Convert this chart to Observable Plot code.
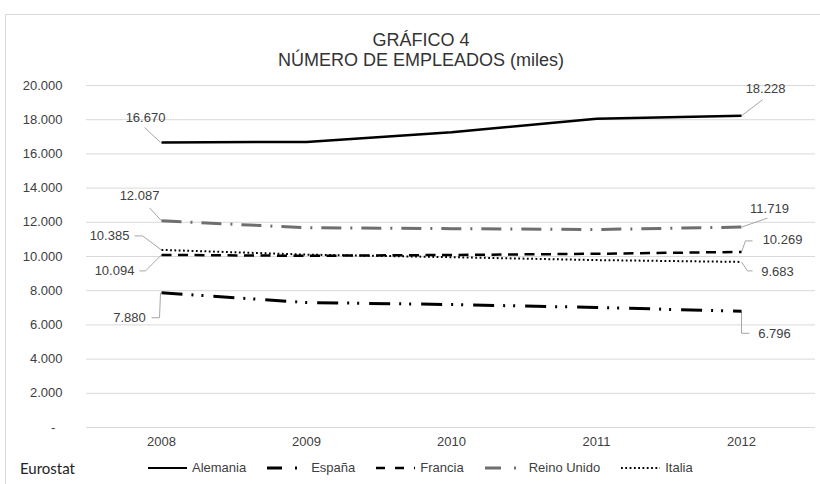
<!DOCTYPE html>
<html>
<head>
<meta charset="utf-8">
<script src="https://cdn.jsdelivr.net/npm/d3@7"></script>
<script src="https://cdn.jsdelivr.net/npm/@observablehq/plot@0.6"></script>
<style>
  html, body { margin: 0; padding: 0; background: #fff; }
  body { width: 820px; height: 484px; overflow: hidden; position: relative; font-family: "Liberation Sans", Arial, sans-serif; }
  #frame { position: absolute; left: 5px; top: 14px; width: 840px; height: 500px; border: 1px solid #d9d9d9; box-sizing: border-box; }
  #title { position: absolute; left: 0; top: 30px; width: 842px; text-align: center; font-size: 18px; line-height: 20px; color: #333; }
  #chart { position: absolute; left: 0; top: 70px; }
  #source { position: absolute; left: 20px; top: 459px; font-family: Lato, "Open Sans", sans-serif; font-size: 15px; color: #222; }
  #legend { position: absolute; left: 148px; top: 460px; display: flex; gap: 21px; font-size: 13px; color: #404040; line-height: 16px; }
  #legend .item { display: flex; align-items: center; }
  #legend svg { margin-right: 5px; }
</style>
</head>
<body>
<div id="frame"></div>
<div id="title"><div>GRÁFICO 4</div><div>NÚMERO DE EMPLEADOS (miles)</div></div>
<div id="chart"></div>
<div id="source">Eurostat</div>
<div id="legend"></div>
<script>
// ---- Data ----
const years = [2008, 2009, 2010, 2011, 2012];
const seriesNames = ["Alemania", "España", "Francia", "Reino Unido", "Italia"];
const alemania   = [16670, 16700, 17270, 18050, 18228];
const espana     = [7880, 7310, 7190, 7020, 6796];
const francia    = [10094, 10040, 10090, 10160, 10269];
const reinoUnido = [12087, 11680, 11630, 11580, 11719];
const italia     = [10385, 10110, 9960, 9790, 9683];
const yTicks = [0, 2000, 4000, 6000, 8000, 10000, 12000, 14000, 16000, 18000, 20000];

// ---- Styles ----
const values = {"Alemania": alemania, "España": espana, "Francia": francia, "Reino Unido": reinoUnido, "Italia": italia};
const styles = {
  "Alemania":    {stroke: "#000", strokeWidth: 2.5, dash: null,            legendDash: null},
  "España":      {stroke: "#000", strokeWidth: 3,   dash: "21,9,2,8,2,10", legendDash: "15,13,2,40"},
  "Francia":     {stroke: "#000", strokeWidth: 2.5, dash: "10,6.5",        legendDash: "9,10"},
  "Reino Unido": {stroke: "#6f6f6f", strokeWidth: 3, dash: "20,9,2,9",     legendDash: "16,13,2,40"},
  "Italia":      {stroke: "#000", strokeWidth: 2,   dash: "1.8,2.5",       legendDash: "1.8,2.5"}
};

const rows = seriesNames.flatMap(s => years.map((y, i) => ({series: s, year: y, value: values[s][i]})));

const fmt = d => d === 0 ? "-\u2007" : d3.format(",")(d).replace(/,/g, ".");

// data label layout (pixel offsets from the point)
const annotations = [
  {series: "Alemania", i: 0, dx: -16, dy: -25, path: [[-1,0],[-17,-15]]},
  {series: "Alemania", i: 4, dx: 24, dy: -27, path: [[0,0],[21,-16]]},
  {series: "Reino Unido", i: 0, dx: -22, dy: -25, path: [[0,0],[-12,-13]]},
  {series: "Italia", i: 0, dx: -52, dy: -14, path: [[0,0],[-19,-14],[-27,-14]]},
  {series: "Francia", i: 0, dx: -47, dy: 16, path: [[0,0],[-16,16],[-22,16]]},
  {series: "España", i: 0, dx: -32, dy: 25, path: [[-1,0],[-2,25],[-10,25]]},
  {series: "Reino Unido", i: 4, dx: 28, dy: -18, path: [[0,0],[26,-9]]},
  {series: "Francia", i: 4, dx: 41, dy: -12, path: [[0,0],[4,-11],[11,-11]]},
  {series: "Italia", i: 4, dx: 36, dy: 10, path: [[0,0],[6,9],[11,9]]},
  {series: "España", i: 4, dx: 33, dy: 23, path: [[0,0],[0,22],[8,22]]}
];

const leaderShape = pts => ({
  draw(ctx) {
    ctx.moveTo(pts[0][0], pts[0][1]);
    for (const p of pts.slice(1)) ctx.lineTo(p[0], p[1]);
  }
});

const lineMarks = seriesNames.map(s => Plot.line(rows.filter(r => r.series === s), {
  x: "year", y: "value",
  stroke: styles[s].stroke, strokeWidth: styles[s].strokeWidth,
  strokeDasharray: styles[s].dash || undefined,
  strokeLinecap: "butt", strokeLinejoin: "round"
}));

const annMarks = annotations.flatMap(a => {
  const d = [{year: years[a.i], value: values[a.series][a.i]}];
  return [
    Plot.vector(d, {x: "year", y: "value", anchor: "start", length: 1, rotate: 0,
      shape: leaderShape(a.path), stroke: "#a6a6a6", strokeWidth: 1, fill: "none",
      strokeLinecap: "butt", strokeLinejoin: "miter"}),
    Plot.text(d, {x: "year", y: "value", text: dd => fmt(dd.value), dx: a.dx, dy: a.dy,
      fill: "#404040", fontSize: 13})
  ];
});

const chart = Plot.plot({
  width: 820,
  height: 385,
  marginLeft: 86,
  marginRight: 5,
  marginTop: 15,
  marginBottom: 28,
  style: {fontFamily: "'Liberation Sans', Arial, sans-serif", fontSize: "13px", color: "#404040", background: "transparent"},
  x: {type: "point", domain: years, padding: 0.5, label: null},
  y: {domain: [0, 20000], label: null},
  marks: [
    Plot.ruleY(yTicks, {stroke: "#d9d9d9", strokeWidth: 1}),
    Plot.axisY({ticks: yTicks, tickSize: 0, tickPadding: 24, tickFormat: fmt, label: null, fill: "#404040"}),
    Plot.axisX({tickSize: 0, tickPadding: 9, tickFormat: d => String(d), label: null, fill: "#404040"}),
    ...annMarks,
    ...lineMarks
  ]
});
document.getElementById("chart").appendChild(chart);

// ---- Legend ----
const legend = document.getElementById("legend");
for (const s of seriesNames) {
  const st = styles[s];
  const item = document.createElement("div");
  item.className = "item";
  const ns = "http://www.w3.org/2000/svg";
  const svg = document.createElementNS(ns, "svg");
  svg.setAttribute("width", 39); svg.setAttribute("height", 16);
  const ln = document.createElementNS(ns, "line");
  ln.setAttribute("x1", 0); ln.setAttribute("x2", 39);
  ln.setAttribute("y1", 8); ln.setAttribute("y2", 8);
  ln.setAttribute("stroke", st.stroke);
  ln.setAttribute("stroke-width", s === "Alemania" ? 2 : st.strokeWidth);
  if (st.legendDash) ln.setAttribute("stroke-dasharray", st.legendDash);
  svg.appendChild(ln);
  const span = document.createElement("span");
  span.textContent = s;
  item.appendChild(svg); item.appendChild(span);
  legend.appendChild(item);
}
</script>
</body>
</html>
